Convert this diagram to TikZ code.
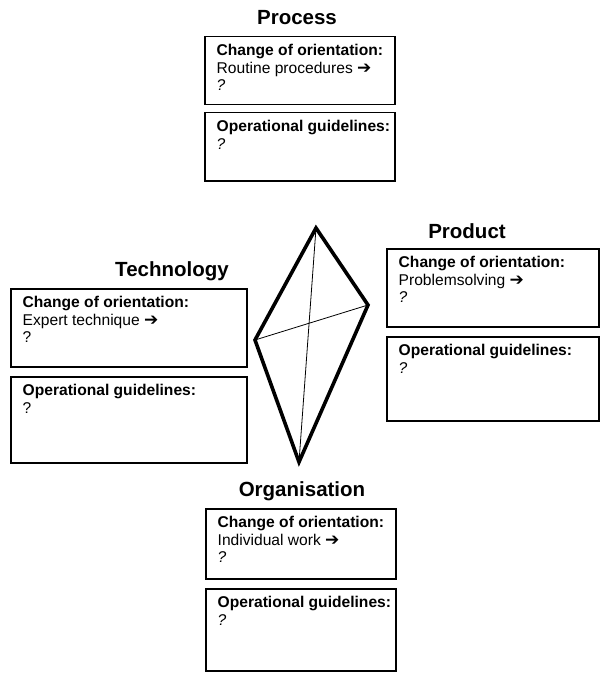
\documentclass[tikz,border=0pt]{standalone}
\usepackage{fontspec}
\setmainfont{Liberation Sans}
\newfontfamily\symfont{DejaVu Sans}
\usepackage{tikz}
\usetikzlibrary{calc}
\tikzstyle{infobox}=[draw,line width=1.5pt,anchor=north west,inner sep=0pt]
\tikzstyle{boxtext}=[anchor=north west,align=left,inner sep=0pt,font=\fontsize{15.6}{17.5}\selectfont]
\tikzstyle{heading}=[font=\fontsize{20.5}{22}\selectfont\bfseries]
\tikzstyle{kiteedge}=[draw,line width=3.6pt,line join=miter]
\tikzstyle{diagonal}=[draw,line width=0.8pt]
\newcommand{\rarr}{{\symfont\bfseries\fontsize{17}{17}\selectfont ➔}}

\begin{document}
\begin{tikzpicture}[x=1pt,y=-1pt]
    \useasboundingbox (0,0) rectangle (600,679);

    % headings
    \foreach \pos/\name/\txt in {{(297,18)/process/Process}, {(467,231)/product/Product},
                                 {(172,271)/technology/Technology}, {(302,491)/organisation/Organisation}}
        \node[heading] (\name) at \pos {\txt};

    % boxes
    \foreach \name/\x/\y/\w/\h in {proc1/204/36/190/68, proc2/204/112/190/68,
                                   prod1/386/248/212/78, prod2/386/336/212/84,
                                   tech1/10/288/236/78, tech2/10/376/236/86,
                                   orga1/205/508/190/70, orga2/205/588/190/82}
        \node[infobox,minimum width=\w pt,minimum height=\h pt] (\name) at (\x,\y) {};

    % box texts
    \foreach \name/\txt in {proc1/{\textbf{Change of orientation:}\\Routine procedures \rarr\\\textit{?}},
                            proc2/{\textbf{Operational guidelines:}\\\textit{?}},
                            prod1/{\textbf{Change of orientation:}\\Problemsolving \rarr\\\textit{?}},
                            prod2/{\textbf{Operational guidelines:}\\\textit{?}},
                            tech1/{\textbf{Change of orientation:}\\Expert technique \rarr\\?},
                            tech2/{\textbf{Operational guidelines:}\\?},
                            orga1/{\textbf{Change of orientation:}\\Individual work \rarr\\\textit{?}},
                            orga2/{\textbf{Operational guidelines:}\\\textit{?}}}
        \node[boxtext] (\name-txt) at ($(\name.north west)+(12.5,8)$) {\txt};

    % kite
    \coordinate (top) at (316,228);
    \coordinate (left) at (255,340);
    \coordinate (right) at (368,305);
    \coordinate (bottom) at (299,462);
    \path[kiteedge] (top) -- (right) -- (bottom) -- (left) -- cycle;
    \path[diagonal] (top) -- (bottom);
    \path[diagonal] (left) -- (right);

\end{tikzpicture}
\end{document}
